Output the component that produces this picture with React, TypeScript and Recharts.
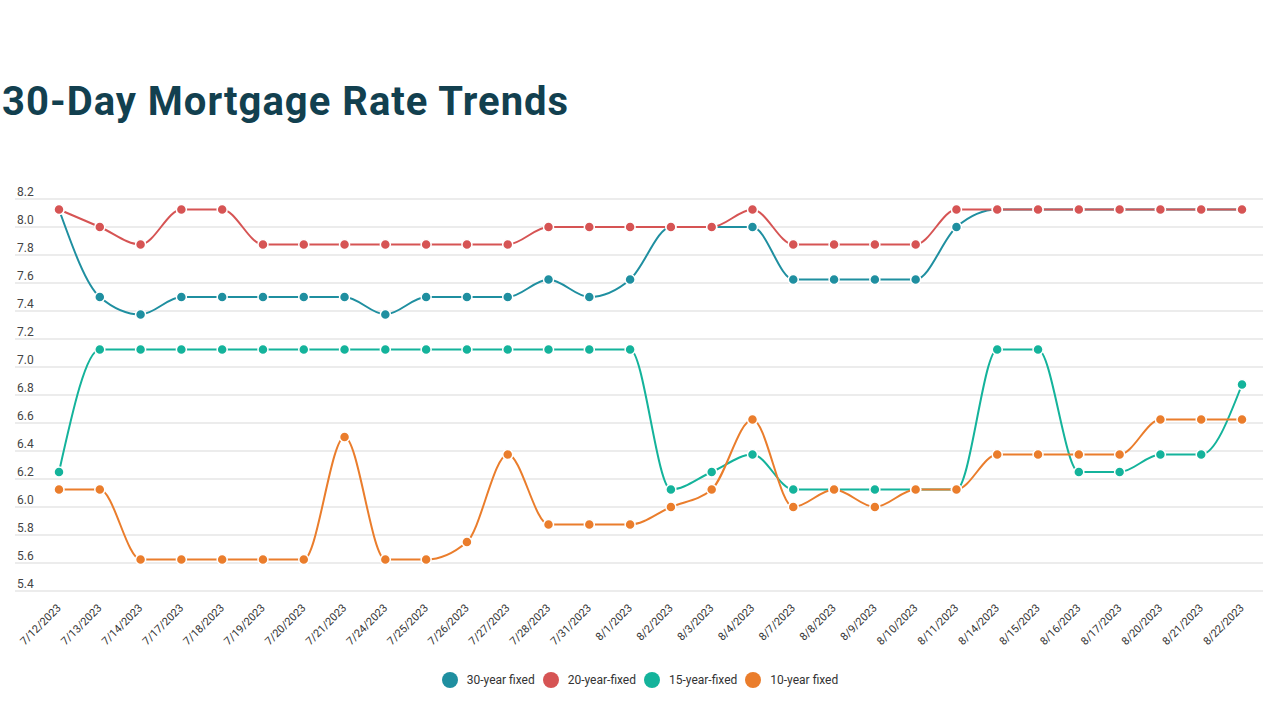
import { LineChart, Line, XAxis, YAxis, CartesianGrid, Legend } from "recharts";

const dates = [
  "7/12/2023", "7/13/2023", "7/14/2023", "7/17/2023", "7/18/2023", "7/19/2023",
  "7/20/2023", "7/21/2023", "7/24/2023", "7/25/2023", "7/26/2023", "7/27/2023",
  "7/28/2023", "7/31/2023", "8/1/2023", "8/2/2023", "8/3/2023", "8/4/2023",
  "8/7/2023", "8/8/2023", "8/9/2023", "8/10/2023", "8/11/2023", "8/14/2023",
  "8/15/2023", "8/16/2023", "8/17/2023", "8/20/2023", "8/21/2023", "8/22/2023",
];

const thirtyYear = [
  8.125, 7.5, 7.375, 7.5, 7.5, 7.5, 7.5, 7.5, 7.375, 7.5, 7.5, 7.5, 7.625, 7.5, 7.625,
  8.0, 8.0, 8.0, 7.625, 7.625, 7.625, 7.625, 8.0, 8.125, 8.125, 8.125, 8.125, 8.125, 8.125, 8.125,
];
const twentyYear = [
  8.125, 8.0, 7.875, 8.125, 8.125, 7.875, 7.875, 7.875, 7.875, 7.875, 7.875, 7.875, 8.0, 8.0, 8.0,
  8.0, 8.0, 8.125, 7.875, 7.875, 7.875, 7.875, 8.125, 8.125, 8.125, 8.125, 8.125, 8.125, 8.125, 8.125,
];
const fifteenYear = [
  6.25, 7.125, 7.125, 7.125, 7.125, 7.125, 7.125, 7.125, 7.125, 7.125, 7.125, 7.125, 7.125, 7.125, 7.125,
  6.125, 6.25, 6.375, 6.125, 6.125, 6.125, 6.125, 6.125, 7.125, 7.125, 6.25, 6.25, 6.375, 6.375, 6.875,
];
const tenYear = [
  6.125, 6.125, 5.625, 5.625, 5.625, 5.625, 5.625, 6.5, 5.625, 5.625, 5.75, 6.375, 5.875, 5.875, 5.875,
  6.0, 6.125, 6.625, 6.0, 6.125, 6.0, 6.125, 6.125, 6.375, 6.375, 6.375, 6.375, 6.625, 6.625, 6.625,
];

const yTicks = [5.4, 5.6, 5.8, 6.0, 6.2, 6.4, 6.6, 6.8, 7.0, 7.2, 7.4, 7.6, 7.8, 8.0, 8.2];

const series = [
  { key: "thirty", name: "30-year fixed", color: "#1f8fa0" },
  { key: "twenty", name: "20-year-fixed", color: "#d65454" },
  { key: "fifteen", name: "15-year-fixed", color: "#14b39b" },
  { key: "ten", name: "10-year fixed", color: "#ea7d2c" },
];

const data = dates.map((d, i) => ({
  date: d,
  thirty: thirtyYear[i],
  twenty: twentyYear[i],
  fifteen: fifteenYear[i],
  ten: tenYear[i],
}));

const font = "Roboto, 'Noto Sans', sans-serif";

function YTick(props: any) {
  const { y, payload } = props;
  return (
    <text x={17} y={y - 3} fontSize={12} fill="#444" fontFamily={font} textAnchor="start">
      {Number(payload.value).toFixed(1)}
    </text>
  );
}

function XTick(props: any) {
  const { x, y, payload } = props;
  return (
    <g transform={`translate(${x - 3},${y + 4})`}>
      <text
        x={0}
        y={0}
        dy={8}
        textAnchor="end"
        transform="rotate(-45)"
        fontSize={11}
        fill="#333"
        fontFamily={font}
      >
        {payload.value}
      </text>
    </g>
  );
}

// keep legend in series order
function LegendContent() {
  return (
    <div style={{ display: "flex", justifyContent: "center", gap: 8, fontFamily: font, fontSize: 12, color: "#333" }}>
      {series.map((s) => (
        <div key={s.key} style={{ display: "flex", alignItems: "center" }}>
          <span
            style={{
              display: "inline-block",
              width: 16,
              height: 16,
              borderRadius: 8,
              background: s.color,
              marginRight: 9,
            }}
          />
          {s.name}
        </div>
      ))}
    </div>
  );
}

export default function App() {
  return (
    <div style={{ position: "absolute", left: 0, top: 0, width: 1280, height: 726, background: "#fff" }}>
      <div
        style={{
          position: "absolute",
          left: 2,
          top: 78,
          fontFamily: font,
          fontWeight: 700,
          fontSize: 40,
          letterSpacing: 1,
          color: "#12404f",
          lineHeight: "48px",
        }}
      >
        30-Day Mortgage Rate Trends
      </div>
      <LineChart
        width={1280}
        height={726}
        data={data}
        margin={{ top: 199, right: 17, left: 14, bottom: 75 }}
      >
        <CartesianGrid vertical={false} stroke="#d9d9d9" strokeWidth={1} />
        <XAxis
          dataKey="date"
          axisLine={false}
          tickLine={false}
          interval={0}
          height={60}
          padding={{ left: 44, right: 21 }}
          tick={<XTick />}
        />
        <YAxis
          domain={[5.4, 8.2]}
          ticks={yTicks}
          width={1}
          axisLine={false}
          tickLine={false}
          tick={<YTick />}
          interval={0}
          allowDataOverflow
        />
        <Legend
          verticalAlign="middle"
          align="center"
          layout="horizontal"
          wrapperStyle={{ top: 672, left: 0, width: 1280 }}
          content={<LegendContent />}
        />
        {series.map((s) => (
          <Line
            key={s.key}
            type="monotone"
            dataKey={s.key}
            name={s.name}
            stroke={s.color}
            strokeWidth={2}
            dot={{ r: 5, fill: s.color, stroke: "#fff", strokeWidth: 1.5 }}
            activeDot={false}
            isAnimationActive={false}
          />
        ))}
      </LineChart>
    </div>
  );
}
